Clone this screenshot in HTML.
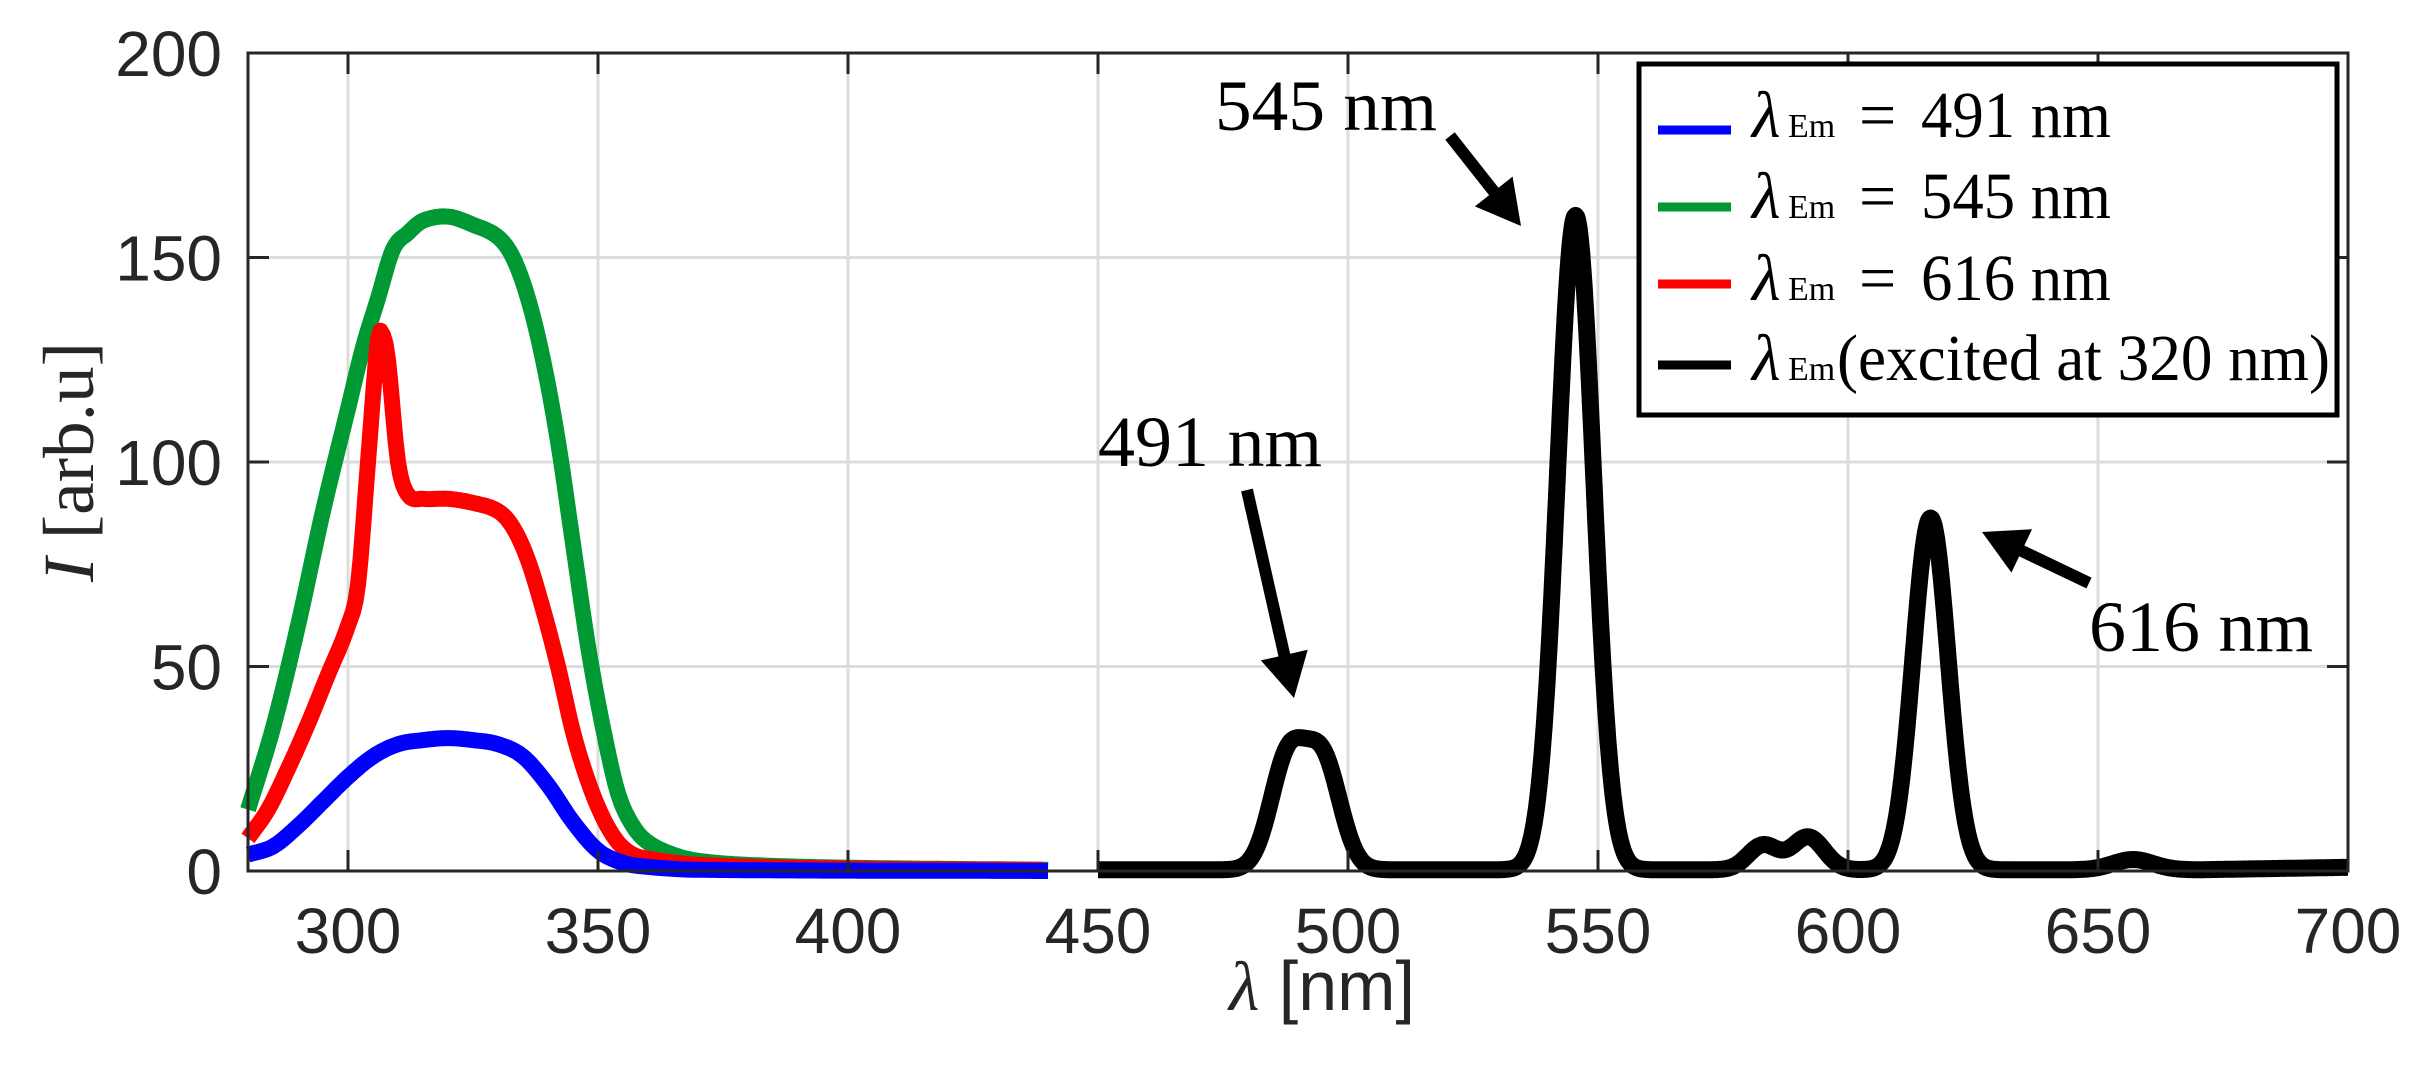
<!DOCTYPE html>
<html><head><meta charset="utf-8"><style>html,body{margin:0;padding:0;background:#fff}svg{display:block}</style></head>
<body>
<svg id="s" width="2418" height="1083" viewBox="0 0 2418 1083" xmlns="http://www.w3.org/2000/svg">
<rect width="2418" height="1083" fill="#fff"/>
<g id="grid" stroke="#dcdcdc" stroke-width="3"></g>
<g id="curves" fill="none" stroke-linejoin="round" stroke-linecap="butt"></g>
<g id="axes" stroke="#262626" stroke-width="3" fill="none"></g>
<g id="ticklabels" font-family="Liberation Sans, Arial, sans-serif" font-size="64" fill="#262626"></g>
<text x="69" y="462" transform="rotate(-90 69 462)" text-anchor="middle" dominant-baseline="central" font-family="Liberation Serif, serif" font-size="72" fill="#262626" textLength="240" lengthAdjust="spacingAndGlyphs"><tspan font-style="italic">I</tspan> [arb.u]</text>
<text x="1322" y="1010" text-anchor="middle" font-family="Liberation Sans, sans-serif" font-size="70" fill="#262626"><tspan font-family="Liberation Serif, serif" font-style="italic">λ</tspan> [nm]</text>
<g font-family="Liberation Serif, serif" font-size="72" fill="#000">
<text x="1215" y="130" textLength="222" lengthAdjust="spacingAndGlyphs">545 nm</text>
<text x="1098" y="466" textLength="224" lengthAdjust="spacingAndGlyphs">491 nm</text>
<text x="2089" y="651" textLength="224" lengthAdjust="spacingAndGlyphs">616 nm</text>
</g>
<g id="arrows" fill="#000" stroke="#000"></g>
<rect x="1639" y="64" width="698" height="351" fill="#fff" stroke="#000" stroke-width="5"/>
<g stroke-width="9">
<line x1="1658" y1="130" x2="1731" y2="130" stroke="#0000ff"/>
<line x1="1658" y1="207" x2="1731" y2="207" stroke="#009933"/>
<line x1="1658" y1="284" x2="1731" y2="284" stroke="#ff0000"/>
<line x1="1658" y1="365" x2="1731" y2="365" stroke="#000"/>
</g>
<g font-family="Liberation Serif, serif" font-size="66" fill="#000">
<text x="1752" y="137" font-style="italic">λ</text><text x="1788" y="137" font-size="34">Em</text>
<text x="1859" y="137">=</text><text x="1921" y="137" textLength="190" lengthAdjust="spacingAndGlyphs">491 nm</text>
<text x="1752" y="218" font-style="italic">λ</text><text x="1788" y="218" font-size="34">Em</text>
<text x="1859" y="218">=</text><text x="1921" y="218" textLength="190" lengthAdjust="spacingAndGlyphs">545 nm</text>
<text x="1752" y="300" font-style="italic">λ</text><text x="1788" y="300" font-size="34">Em</text>
<text x="1859" y="300">=</text><text x="1921" y="300" textLength="190" lengthAdjust="spacingAndGlyphs">616 nm</text>
<text x="1752" y="380" font-style="italic">λ</text><text x="1788" y="380" font-size="34">Em</text>
<text x="1837" y="380" textLength="493" lengthAdjust="spacingAndGlyphs">(excited at 320 nm)</text>
</g>
</svg>
<script>
(function(){
var NS="http://www.w3.org/2000/svg";
function X(n){return 248+5*(n-280);}
function Y(v){return 871-4.09*v;}
function el(p,t,a){var e=document.createElementNS(NS,t);for(var k in a)e.setAttribute(k,a[k]);p.appendChild(e);return e;}
var g=document.getElementById('grid'),ax=document.getElementById('axes'),tl=document.getElementById('ticklabels');
for(var n=300;n<=650;n+=50){el(g,'line',{x1:X(n),y1:53,x2:X(n),y2:871});}
for(var v=50;v<=150;v+=50){el(g,'line',{x1:248,y1:Y(v),x2:2348,y2:Y(v)});}
el(ax,'rect',{x:248,y:53,width:2100,height:818});
for(var n=300;n<=700;n+=50){el(ax,'line',{x1:X(n),y1:871,x2:X(n),y2:850});el(ax,'line',{x1:X(n),y1:53,x2:X(n),y2:74});
 var t=el(tl,'text',{x:X(n),y:953,'text-anchor':'middle'});t.textContent=n;}
for(var v=0;v<=200;v+=50){el(ax,'line',{x1:248,y1:Y(v),x2:269,y2:Y(v)});el(ax,'line',{x1:2348,y1:Y(v),x2:2327,y2:Y(v)});
 var t=el(tl,'text',{x:222,y:Y(v)+23,'text-anchor':'end'});t.textContent=v;}
function interp(p,n){var N=p.length;for(var i=0;i<N-1;i++){if(n>=p[i][0]&&n<=p[i+1][0]){
 var a=p[i],b=p[i+1],h=b[0]-a[0],t=(n-a[0])/h;
 var m0=i>0?(b[1]-p[i-1][1])/(b[0]-p[i-1][0]):(b[1]-a[1])/h;
 var m1=i<N-2?(p[i+2][1]-a[1])/(p[i+2][0]-a[0]):(b[1]-a[1])/h;
 var t2=t*t,t3=t2*t;
 return (2*t3-3*t2+1)*a[1]+(t3-2*t2+t)*h*m0+(-2*t3+3*t2)*b[1]+(t3-t2)*h*m1;}}return p[N-1][1];}
function curve(pts,col,w,start,end){var d='';for(var n=start;n<=end;n+=0.5){d+=(d?'L':'M')+X(n).toFixed(1)+','+Y(interp(pts,n)).toFixed(1);}
 el(document.getElementById('curves'),'path',{d:d,stroke:col,'stroke-width':w});}
var blue=[[280,4],[285,6],[290,11],[295,17],[300,23],[305,28],[310,31],[315,32],[320,32.5],[325,32],[330,31],[335,28],[340,21],[345,12],[350,5],[355,2],[360,1],[370,0.3],[440,0]];
var green=[[280,15],[285,35],[290,60],[295,88],[300,113],[303,128],[306,140],[309,152],[312,156],[315,159],[320,160],[325,158],[330,155],[333,150],[336,140],[339,125],[342,105],[345,80],[348,55],[351,35],[354,19],[357,11],[360,7],[365,4],[370,2.5],[380,1.5],[400,0.8],[440,0.3]];
var red=[[280,8],[284,15],[288,25],[292,36],[296,48],[300,60],[302,70],[304,100],[306,130],[307,131],[308,125],[310,100],[312,92],[315,91],[320,91],[325,90],[330,88],[333,84],[336,76],[339,64],[342,50],[345,34],[348,22],[351,13],[354,7],[357,4],[360,3],[370,1.5],[400,0.6],[440,0.3]];
curve(green,'#009933',16,280,440);
curve(red,'#ff0000',16,280,439);
curve(blue,'#0000ff',16,280,440);
function G(n,c,s,h){return h*Math.exp(-0.5*Math.pow((n-c)/s,2));}
var d='';for(var n=450;n<=700;n+=0.25){
 var v=0.3+G(n,488,3.5,27)+G(n,495,3.5,26)+G(n,545.5,3.6,160)+G(n,583,3,6)+G(n,592,3.2,8)+G(n,616.5,3.5,86)+G(n,657,4,2.5)+(n>670?0.02*(n-670):0);
 d+=(d?'L':'M')+X(n).toFixed(1)+','+Y(v).toFixed(1);}
el(document.getElementById('curves'),'path',{d:d,stroke:'#000','stroke-width':17});
var ar=document.getElementById('arrows');
function arrow(x1,y1,x2,y2){var dx=x2-x1,dy=y2-y1,L=Math.sqrt(dx*dx+dy*dy),ux=dx/L,uy=dy/L,hl=44,hw=24;
 var bx=x2-ux*hl,by=y2-uy*hl;
 el(ar,'line',{x1:x1,y1:y1,x2:bx+ux*4,y2:by+uy*4,'stroke-width':12});
 el(ar,'polygon',{points:x2+','+y2+' '+(bx-uy*hw)+','+(by+ux*hw)+' '+(bx+uy*hw)+','+(by-ux*hw),stroke:'none'});}
arrow(1450,136,1521,226);
arrow(1247,490,1294,698);
arrow(2089,583,1982,532);
})();
</script>
</body></html>
